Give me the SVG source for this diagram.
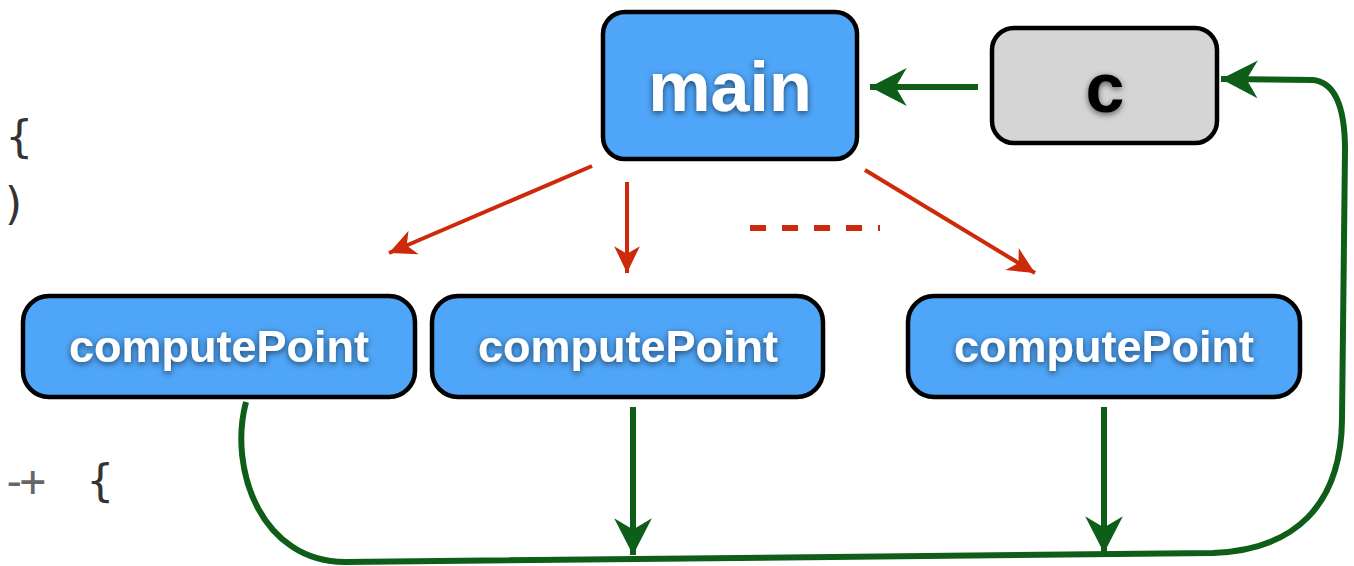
<svg xmlns="http://www.w3.org/2000/svg" width="1354" height="566" viewBox="0 0 1354 566">
<style>
.box{stroke:#000;stroke-width:4.5}
.blue{fill:#4FA5F7}
.grey{fill:#D5D5D5}
.lbl{font-family:"Liberation Sans",Arial,sans-serif;font-weight:bold;text-anchor:middle;fill:#fff;filter:url(#ts)}
.code{font-family:"DejaVu Sans Mono","Liberation Mono",monospace;font-size:44px}
.g{stroke:#0E5E19;stroke-width:6;fill:none}
.r{stroke:#CC2A0A;stroke-width:4;fill:none}
</style>
<defs>
<filter id="ts" x="-20%" y="-30%" width="140%" height="160%">
<feDropShadow dx="0" dy="2" stdDeviation="3" flood-color="#000" flood-opacity="0.6"/>
</filter>
<marker id="ga" markerUnits="userSpaceOnUse" markerWidth="40" markerHeight="40" viewBox="-34 -18 36 36" refX="0" refY="0" orient="auto">
<path d="M0,0 L-33,-17 L-23,0 L-33,17 Z" fill="#0E5E19"/>
</marker>
<marker id="ra" markerUnits="userSpaceOnUse" markerWidth="30" markerHeight="30" viewBox="-26 -13 28 26" refX="0" refY="0" orient="auto">
<path d="M0,0 L-25,-12 L-18,0 L-25,12 Z" fill="#CC2A0A"/>
</marker>
</defs>

<g id="code">
<text class="code" x="6" y="152" fill="#333">{</text>
<text class="code" x="1" y="219" fill="#333">)</text>
<text class="code" x="1" y="496" fill="#666" letter-spacing="-8">-+</text>
<text class="code" x="87" y="496" fill="#333">{</text>
</g>

<g id="connectors">
<line class="g" x1="978" y1="87" x2="870" y2="87" marker-end="url(#ga)"/>
<line class="r" x1="592" y1="166" x2="389" y2="253" marker-end="url(#ra)"/>
<line class="r" x1="627" y1="182" x2="627" y2="273" marker-end="url(#ra)"/>
<line class="r" x1="865" y1="170" x2="1035" y2="273" marker-end="url(#ra)"/>
<line x1="750" y1="228" x2="880" y2="228" stroke="#CC2A0A" stroke-width="6" stroke-dasharray="16 16"/>
<line class="g" x1="633" y1="407" x2="633" y2="555" marker-end="url(#ga)"/>
<line class="g" x1="1104" y1="407" x2="1104" y2="553" marker-end="url(#ga)"/>
<path class="g" d="M246 402 C228 470,262 562,345 562 L1213 553 C1295 550,1341 505,1342 420 L1345 150 C1345 102,1332 82,1313 80 L1221 79" marker-end="url(#ga)"/>
</g>

<g id="main">
<rect class="box blue" x="603" y="12" width="254" height="147" rx="22"/>
<text class="lbl" x="730" y="111" font-size="70">main</text>
</g>
<g id="c">
<rect class="box grey" x="992" y="28" width="225" height="115" rx="22"/>
<text class="lbl" x="1105" y="112" font-size="70" style="fill:#000">c</text>
</g>
<g id="cp1">
<rect class="box blue" x="23" y="296" width="392" height="101" rx="26"/>
<text class="lbl" x="219" y="362" font-size="45">computePoint</text>
</g>
<g id="cp2">
<rect class="box blue" x="432" y="296" width="391" height="101" rx="26"/>
<text class="lbl" x="628" y="362" font-size="45">computePoint</text>
</g>
<g id="cp3">
<rect class="box blue" x="908" y="296" width="392" height="101" rx="26"/>
<text class="lbl" x="1104" y="362" font-size="45">computePoint</text>
</g>
</svg>
